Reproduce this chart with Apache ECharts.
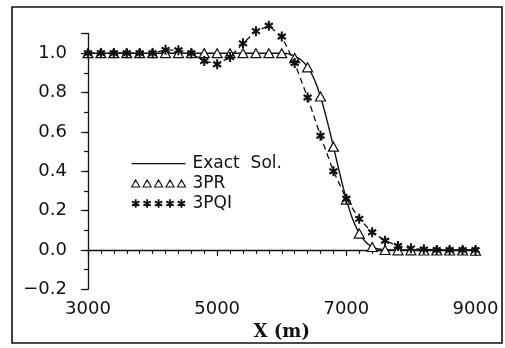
<!DOCTYPE html>
<html>
<head>
<meta charset="utf-8">
<script src="https://cdn.jsdelivr.net/npm/echarts@6/dist/echarts.min.js"></script>
<style>
  html, body { margin: 0; padding: 0; background: #fff; }
  #chart { width: 505px; height: 348px; }
</style>
</head>
<body>
<div id="chart"></div>
<script>
// ---- data ----
const xs = [3000, 3200, 3400, 3600, 3800, 4000, 4200, 4400, 4600, 4800, 5000, 5200, 5400, 5600, 5800, 6000,
            6200, 6400, 6600, 6800, 7000, 7200, 7400, 7600, 7800, 8000, 8200, 8400, 8600, 8800, 9000];
const pr3 = [1, 1, 1, 1, 1, 1, 1, 1, 1, 1, 1, 1, 1, 1, 1, 1,
             0.975, 0.928, 0.78, 0.525, 0.256, 0.083, 0.015, 0.0, -0.002, -0.002, -0.003, -0.003, -0.003, -0.003, -0.004];
const pqi3 = [1, 1, 1, 1, 1, 1, 1.017, 1.015, 1.0, 0.96, 0.944, 0.98, 1.05, 1.112, 1.139, 1.085,
              0.95, 0.775, 0.58, 0.40, 0.26, 0.158, 0.09, 0.047, 0.02, 0.008, 0.003, 0, 0, 0, 0];
const exactX = [3000, 6000, 6100, 6200, 6300, 6400, 6500, 6600, 6700, 6800, 6900, 7000, 7100, 7200, 7300, 7400, 7500, 7600, 7800, 9000];
const exactY = [1, 1, 0.998, 0.985, 0.965, 0.93, 0.87, 0.78, 0.66, 0.525, 0.385, 0.257, 0.155, 0.085, 0.04, 0.015, 0.005, 0.001, 0, 0];
const xTickLabels = ['3000', '5000', '7000', '9000'];
const yTickLabels = ['-0.2', '0.0', '0.2', '0.4', '0.6', '0.8', '1.0'];
const seriesNames = ['Exact  Sol.', '3PR', '3PQI'];

// ---- symbol paths (styling only) ----
function asterisk(cx, cy, L, w) {
  let p = '';
  [90, 30, -30].forEach(a => {
    const r = a * Math.PI / 180, dx = Math.cos(r), dy = Math.sin(r), nx = -dy, ny = dx;
    const pts = [
      [cx + L * dx + w * nx, cy + L * dy + w * ny],
      [cx + L * dx - w * nx, cy + L * dy - w * ny],
      [cx - L * dx - w * nx, cy - L * dy - w * ny],
      [cx - L * dx + w * nx, cy - L * dy + w * ny]
    ];
    p += 'M' + pts.map(q => q[0].toFixed(3) + ',' + q[1].toFixed(3)).join('L') + 'Z';
  });
  return p;
}
const starPath = 'path://' + asterisk(0, 0, 1, 0.22);
// legend icons: all drawn in a 54 x 9 box
let starLegend = 'path://';
for (let i = 0; i < 5; i++) starLegend += asterisk(4.5 + i * 11.25, 4.5, 4.2, 0.9);
let triLegend = 'path://';
for (let i = 0; i < 5; i++) {
  const x0 = 0.5 + i * 11.25;
  triLegend += 'M' + x0 + ',8L' + (x0 + 4) + ',1L' + (x0 + 8) + ',8Z';
}
const lineLegend = 'path://M0,0L0.01,0L0.01,9L0,9Z M0,4L54,4L54,5.3L0,5.3Z M53.99,0L54,0L54,9L53.99,9Z';

const font = 'DejaVu Sans';
const chart = echarts.init(document.getElementById('chart'), null, { renderer: 'canvas' });
chart.setOption({
  animation: false,
  backgroundColor: '#fff',
  grid: { left: 88, right: 29.5, top: 33.5, bottom: 58.7, containLabel: false },
  graphic: [{
    type: 'rect', silent: true, z: 100,
    shape: { x: 12, y: 7, width: 490, height: 336 },
    style: { fill: 'none', stroke: '#111', lineWidth: 1.6 }
  }],
  legend: {
    orient: 'vertical', left: 126, top: 150,
    itemWidth: 54, itemHeight: 9, itemGap: 3,
    textStyle: { fontFamily: font, fontSize: 17, color: '#111', lineHeight: 14, padding: [0, 0, 0, 2] },
    data: [
      { name: seriesNames[0], icon: lineLegend, itemStyle: { color: '#111', borderWidth: 0 } },
      { name: seriesNames[1], icon: triLegend, itemStyle: { color: '#fff', borderColor: '#111', borderWidth: 1.1 } },
      { name: seriesNames[2], icon: starLegend, itemStyle: { color: '#111', borderWidth: 0 } }
    ]
  },
  xAxis: [{
    type: 'value', min: 3000, max: 9000, interval: 2000,
    name: 'X (m)', nameLocation: 'middle', nameGap: 29,
    nameTextStyle: { fontFamily: 'DejaVu Serif', fontWeight: 'bold', fontSize: 18, color: '#111' },
    axisLine: { lineStyle: { color: '#111', width: 1.3 } },
    axisTick: { show: true, length: 6, lineStyle: { color: '#111', width: 1.2 } },
    minorTick: { show: true, splitNumber: 10, length: 4, lineStyle: { color: '#111', width: 1.1 } },
    splitLine: { show: false },
    axisLabel: {
      margin: 11, fontFamily: font, fontSize: 18, color: '#111',
      formatter: v => { const i = xTickLabels.indexOf(String(v)); return i >= 0 ? xTickLabels[i] : ''; }
    }
  }],
  yAxis: [{
    type: 'value', min: -0.2, max: 1.1, interval: 0.1,
    axisLine: { show: true, lineStyle: { color: '#111', width: 1.3 } },
    axisTick: { show: true, length: 4, lineStyle: { color: '#111', width: 1.2 } },
    splitLine: { show: false },
    axisLabel: {
      margin: 21, fontFamily: font, fontSize: 18, color: '#111',
      formatter: v => {
        const s = (Math.round(v * 10) / 10).toFixed(1);
        const t = s === '-0.0' ? '0.0' : s;
        return yTickLabels.indexOf(t) >= 0 ? t.replace('-', '\u2212') : '';
      }
    }
  }, {
    type: 'value', min: -0.2, max: 1.1, interval: 0.2, position: 'left',
    axisLine: { show: false },
    axisTick: { show: true, length: 7, lineStyle: { color: '#111', width: 1.2 } },
    splitLine: { show: false },
    axisLabel: { show: false }
  }],
  series: [{
    name: seriesNames[0], type: 'line', yAxisIndex: 0,
    data: exactX.map((x, i) => [x, exactY[i]]),
    symbol: 'none', smooth: 0.2,
    lineStyle: { color: '#111', width: 1.4 },
    itemStyle: { color: '#111' }, z: 2
  }, {
    name: seriesNames[1], type: 'scatter', yAxisIndex: 0, clip: false,
    data: xs.map((x, i) => [x, pr3[i]]),
    symbol: 'triangle', symbolSize: [10, 9],
    itemStyle: { color: '#fff', borderColor: '#111', borderWidth: 1.2, opacity: 1 }, z: 3
  }, {
    name: seriesNames[2], type: 'line', yAxisIndex: 0, clip: false,
    data: xs.map((x, i) => [x, pqi3[i]]),
    symbol: starPath, symbolSize: [9, 10], showSymbol: true,
    lineStyle: { color: '#111', width: 1.3, type: [6, 4] },
    itemStyle: { color: '#111' }, z: 4
  }]
});
</script>
</body>
</html>
